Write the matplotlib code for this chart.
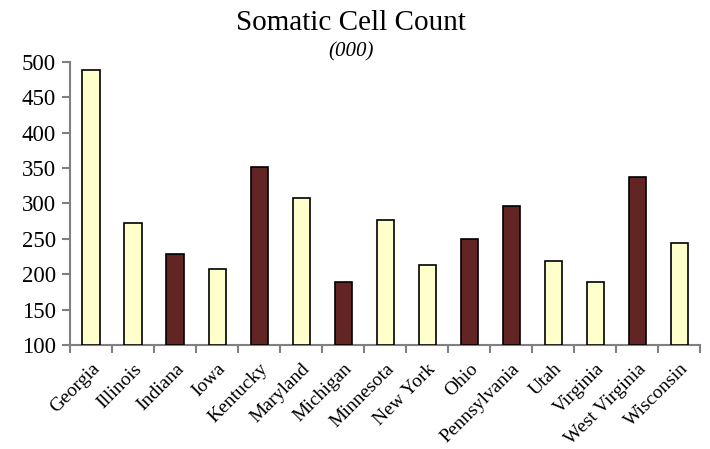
import matplotlib.pyplot as plt
import numpy as np

states = ["Georgia", "Illinois", "Indiana", "Iowa", "Kentucky", "Maryland", "Michigan",
          "Minnesota", "New York", "Ohio", "Pennsylvania", "Utah", "Virginia",
          "West Virginia", "Wisconsin"]
scc = [489, 272, 229, 207, 352, 308, 189, 277, 213, 250, 296, 219, 189, 337, 244]
highlight = [False, False, True, False, True, False, True, False, False, True, True,
             False, False, True, False]

light = "#FFFFCC"
dark = "#632523"

plt.rcParams["font.family"] = ["Liberation Serif", "DejaVu Serif"]

fig = plt.figure(figsize=(7.1, 4.49), dpi=100)
ax = fig.add_axes([0.0986, 0.2316, 0.888, 0.6304])

x = np.arange(len(states))
colors = [dark if h else light for h in highlight]
ax.bar(x, [v - 100 for v in scc], bottom=100, width=0.41, color=colors,
       edgecolor="black", linewidth=1.2, zorder=3)

ax.set_xlim(-0.5, len(states) - 0.5)
ax.set_ylim(100, 500)
ax.set_yticks(range(100, 501, 50))

ax.set_xticks(x)
ax.set_xticklabels(states, rotation=45, ha="right", va="top",
                   rotation_mode="anchor", fontsize=14)
ax.set_xticks(np.arange(-0.5, len(states), 1), minor=True)
ax.tick_params(axis="x", which="major", length=0, pad=11)
ax.tick_params(axis="x", which="minor", length=6, width=1.5, color="#808080",
               direction="out")
ax.tick_params(axis="y", length=6, width=1.5, color="#808080", labelsize=16.5,
               direction="out", pad=4)

for s in ["top", "right"]:
    ax.spines[s].set_visible(False)
for s in ["left", "bottom"]:
    ax.spines[s].set_color("#808080")
    ax.spines[s].set_linewidth(1.5)

fig.text(0.494, 0.948, "Somatic Cell Count", ha="center", va="center", fontsize=21)
fig.text(0.494, 0.884, "(000)", ha="center", va="center", fontsize=15,
         style="italic")

fig.savefig("out.png", dpi=100)
